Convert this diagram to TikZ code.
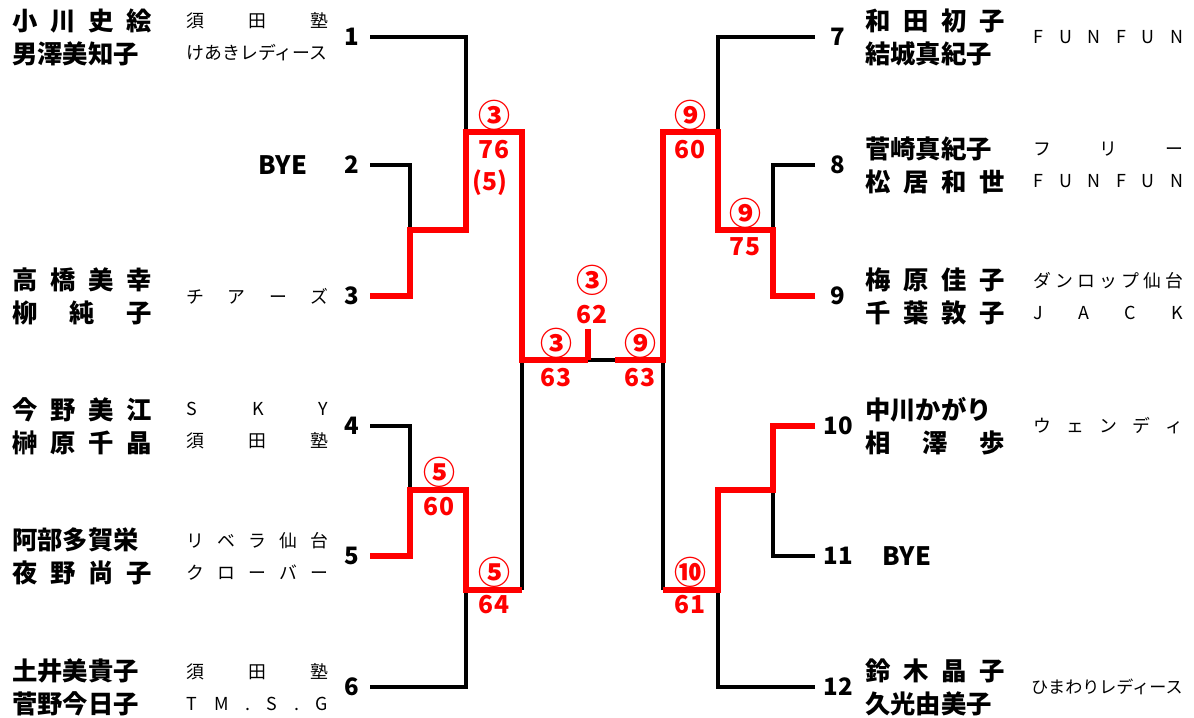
\documentclass[tikz,border=0pt]{standalone}
\usepackage{fontspec}
\setmainfont{Noto Sans CJK JP}
\usetikzlibrary{positioning}
\tikzstyle{win}=[draw=red, line width=3.8pt, line join=miter]
\tikzstyle{lose}=[draw=black, line width=3pt, line join=miter]
\tikzstyle{seed}=[inner sep=0pt, font=\fontsize{18}{18}\selectfont\bfseries]
\tikzstyle{score}=[inner sep=0pt, text=red, font=\fontsize{18.5}{18.5}\selectfont\bfseries]
\tikzstyle{winmark}=[inner sep=0pt, text=red, font=\fontsize{24}{24}\selectfont\bfseries]
\tikzstyle{player}=[inner sep=0pt, align=left, font=\fontsize{19}{24.75}\selectfont\bfseries]
\tikzstyle{club}=[inner sep=0pt, align=left, font=\fontsize{13.4}{24}\selectfont]
\newcommand{\two}[3][105pt]{\makebox[#1][s]{#2}\\\makebox[#1][s]{#3}}
\newcommand{\one}[2][106pt]{\makebox[#1][s]{#2}}

\begin{document}
\begin{tikzpicture}[x=0.75pt, y=-0.75pt]
    \useasboundingbox (0,0) rectangle (1194,717);
    % line ends and corners
    \coordinate (a1) at (370,37);
    \coordinate (a2) at (370,165);
    \coordinate (a3) at (370,296);
    \coordinate (a4) at (370,426);
    \coordinate (a5) at (370,556);
    \coordinate (a6) at (370,687);
    \coordinate (b7) at (815,37);
    \coordinate (b8) at (815,165);
    \coordinate (b9) at (815,296);
    \coordinate (b10) at (815,426);
    \coordinate (b11) at (815,556);
    \coordinate (b12) at (815,687);
    \coordinate (L23) at (410,230);
    \coordinate (L1) at (466,132);
    \coordinate (L45) at (410,490);
    \coordinate (L6) at (466,590);
    \coordinate (LS) at (522,360);
    \coordinate (LSb) at (522,590);
    \coordinate (R89) at (773,230);
    \coordinate (R7) at (718,132);
    \coordinate (R1011) at (773,490);
    \coordinate (R12) at (718,590);
    \coordinate (RS) at (663,360);
    \coordinate (RSb) at (663,590);
    \coordinate (fin) at (588,360);
    \coordinate (fint) at (588,329);
    \coordinate (finr) at (615,360);
    % black lines
    \draw[lose] (a1) -| (L1);
    \draw[lose] (a2) -| (L23);
    \draw[lose] (a4) -| (L45);
    \draw[lose] (a6) -| (L6);
    \draw[lose] (LSb) -- (LS);
    \draw[lose] (b7) -| (R7);
    \draw[lose] (b8) -| (R89);
    \draw[lose] (b11) -| (R1011);
    \draw[lose] (b12) -| (R12);
    \draw[lose] (RSb) -- (RS);
    \draw[lose] (fin) -- (finr);
    % red lines
    \draw[win] (a3) -| (L23) -| (L1) -| (LS) -- (fin);
    \draw[win] (a5) -| (L45) -| (L6) -- (LSb);
    \draw[win] (b9) -| (R89) -| (R7) -| (RS) -- (finr);
    \draw[win] (b10) -| (R1011) -| (R12) -- (RSb);
    \draw[win] (fint) -- (fin);
    % numbers
    \node[seed] (n1) at (352,37) {1};
    \node[seed] (n2) at (352,165) {2};
    \node[seed] (n3) at (352,296) {3};
    \node[seed] (n4) at (352,426) {4};
    \node[seed] (n5) at (352,556) {5};
    \node[seed] (n6) at (352,687) {6};
    \node[seed] (n7) at (838,37) {7};
    \node[seed] (n8) at (838,165) {8};
    \node[seed] (n9) at (838,296) {9};
    \node[seed] (n10) at (838,426) {10};
    \node[seed] (n11) at (838,556) {11};
    \node[seed] (n12) at (838,687) {12};
    % left players
    \node[player, anchor=west] (m1) at (12,37) {\two{小 川 史 絵}{男澤美知子}};
    \node[club, right=25.5pt of m1] (c1) {\two[106pt]{須 田 塾}{けあきレディース}};
    \node[player] (m2) at (283,165) {BYE};
    \node[player, anchor=west] (m3) at (12,296) {\two{高 橋 美 幸}{柳 純 子}};
    \node[club, right=25.5pt of m3] (c3) {\one{チ ア ー ズ}};
    \node[player, anchor=west] (m4) at (12,426) {\two{今 野 美 江}{榊 原 千 晶}};
    \node[club, right=25.5pt of m4] (c4) {\two[106pt]{S K Y}{須 田 塾}};
    \node[player, anchor=west] (m5) at (12,556) {\two{阿部多賀栄}{夜 野 尚 子}};
    \node[club, right=25.5pt of m5] (c5) {\two[106pt]{リ ベ ラ 仙 台}{ク ロ ー バ ー}};
    \node[player, anchor=west] (m6) at (12,687) {\two{土井美貴子}{菅野今日子}};
    \node[club, right=25.5pt of m6] (c6) {\two[106pt]{須 田 塾}{T M . S . G}};
    % right players
    \node[player, anchor=west] (m7) at (865,37) {\two{和 田 初 子}{結城真紀子}};
    \node[club, right=21pt of m7] (c7) {\one[112pt]{F U N F U N}};
    \node[player, anchor=west] (m8) at (865,165) {\two{菅崎真紀子}{松 居 和 世}};
    \node[club, right=21pt of m8] (c8) {\two[112pt]{フ リ ー}{F U N F U N}};
    \node[player, anchor=west] (m9) at (865,296) {\two{梅 原 佳 子}{千 葉 敦 子}};
    \node[club, right=21pt of m9] (c9) {\two[112pt]{ダ ン ロ ッ プ 仙 台}{J A C K}};
    \node[player, anchor=west] (m10) at (865,426) {\two{中川かがり}{相 澤 歩}};
    \node[club, right=21pt of m10] (c10) {\one[112pt]{ウ ェ ン デ ィ}};
    \node[player] (m11) at (907,556) {BYE};
    \node[player, anchor=west] (m12) at (865,687) {\two{鈴 木 晶 子}{久光由美子}};
    \node[club, right=19pt of m12, font=\fontsize{12.8}{24}\selectfont] (c12) {ひまわりレディース};
    % results
    \node[winmark] (r1) at (494,115) {③};
    \node[score] (r1s) at (494,150) {76};
    \node[score] (r1t) at (490,183) {(5)};
    \node[winmark] (r2) at (439,472) {⑤};
    \node[score] (r2s) at (439,507) {60};
    \node[winmark] (r3) at (494,572) {⑤};
    \node[score] (r3s) at (494,605) {64};
    \node[winmark] (r4) at (556,343) {③};
    \node[score] (r4s) at (556,378) {63};
    \node[winmark] (r5) at (592,280) {③};
    \node[score] (r5s) at (592,315) {62};
    \node[winmark] (r6) at (640,343) {⑨};
    \node[score] (r6s) at (640,378) {63};
    \node[winmark] (r7) at (690,115) {⑨};
    \node[score] (r7s) at (690,150) {60};
    \node[winmark] (r8) at (745,213) {⑨};
    \node[score] (r8s) at (745,247) {75};
    \node[winmark] (r9) at (690,572) {⑩};
    \node[score] (r9s) at (690,605) {61};
\end{tikzpicture}
\end{document}
